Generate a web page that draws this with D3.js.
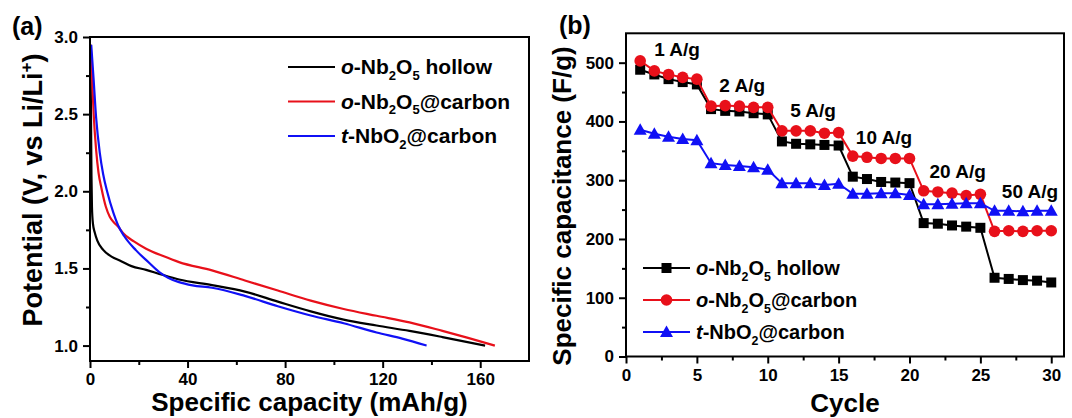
<!DOCTYPE html>
<html>
<head>
<meta charset="utf-8">
<title>Nb oxide discharge and rate</title>
<script src="https://d3js.org/d3.v7.min.js"></script>
<style>
  body { margin: 0; background: #fff; }
  text { font-family: "Liberation Sans", Arial, sans-serif; font-weight: bold; fill: #000; }
</style>
</head>
<body>
<script>
// ---------- panel (a): discharge curves ----------
var holCap = [0.2, 0.4, 0.6, 0.8, 1.2, 2.0, 3.0, 5.4, 9, 12.2, 17, 23, 28.4, 36.5, 50, 63.5, 77, 90.5, 104, 117.5, 131, 144.5, 162];
var holV   = [2.95, 2.5, 2.1, 1.9, 1.79, 1.73, 1.68, 1.62, 1.575, 1.552, 1.515, 1.491, 1.465, 1.428, 1.392, 1.35, 1.285, 1.222, 1.168, 1.13, 1.095, 1.055, 1.0];
var ocCap  = [0.3, 0.8, 1.5, 2.5, 3.5, 4.7, 6.5, 8.1, 10, 11.5, 13.5, 18, 23, 30, 36.5, 50, 63.5, 77, 90.5, 104, 117.5, 131, 144.5, 155, 166];
var ocV    = [2.95, 2.75, 2.5, 2.27, 2.12, 2.02, 1.9, 1.835, 1.795, 1.772, 1.73, 1.675, 1.628, 1.58, 1.541, 1.487, 1.422, 1.357, 1.291, 1.237, 1.193, 1.15, 1.095, 1.05, 1.0];
var tcCap  = [0.5, 1.5, 2.5, 4, 5.4, 7, 9.6, 11.5, 14, 18.9, 24, 28.4, 32, 36.5, 42, 50, 63.5, 77, 90.5, 104, 117.5, 128, 138];
var tcV    = [2.95, 2.72, 2.48, 2.25, 2.11, 2.0, 1.86, 1.78, 1.71, 1.617, 1.54, 1.476, 1.44, 1.411, 1.39, 1.375, 1.322, 1.255, 1.195, 1.145, 1.085, 1.045, 1.0];
var capTicks = [0, 40, 80, 120, 160];
var capMinor = [20, 60, 100, 140];
var vTicks = [1.0, 1.5, 2.0, 2.5, 3.0];
var vMinor = [1.25, 1.75, 2.25, 2.75];

// ---------- panel (b): rate performance ----------
var cycles = [1,2,3,4,5,6,7,8,9,10,11,12,13,14,15,16,17,18,19,20,21,22,23,24,25,26,27,28,29,30];
var holCapac = [488,480,472,467,463, 421,418,417,414,412, 366,362,361,360,359, 306,302,297,296,295, 227,226,223,221,219, 134,132,130,129,126];
var ocCapac  = [503,486,480,475,472, 426,427,426,424,424, 384,384,384,380,381, 341,339,337,337,337, 282,280,278,274,276, 213,214,213,214,214];
var tcCapac  = [386,379,374,370,368, 329,326,324,322,318, 295,295,295,292,294, 277,277,278,278,275, 259,259,260,261,261, 248,248,247,248,248];
var cycTicks = [0, 5, 10, 15, 20, 25, 30];
var cycMinor = [2.5, 7.5, 12.5, 17.5, 22.5, 27.5];
var capTicksB = [0, 100, 200, 300, 400, 500];
var capMinorB = [50, 150, 250, 350, 450];
var rateNames = ["1 A/g", "2 A/g", "5 A/g", "10 A/g", "20 A/g", "50 A/g"];
var rateCycle = [3.6, 8.2, 13.2, 18.2, 23.4, 28.5];
var rateValue = [523, 462, 420, 373, 315, 281];

// legend text pieces: [text, "i" italic | "s" subscript]
var nameHollow = [["o", "i"], ["-Nb"], ["2", "s"], ["O"], ["5", "s"], [" hollow"]];
var nameOC = [["o", "i"], ["-Nb"], ["2", "s"], ["O"], ["5", "s"], ["@carbon"]];
var nameTC = [["t", "i"], ["-NbO"], ["2", "s"], ["@carbon"]];

var RED = "#e8101a", BLUE = "#1010f5";

var svg = d3.select("body").append("svg").attr("width", 1072).attr("height", 418);

function richText(sel, parts, size) {
  var back = 0;
  parts.forEach(function (p) {
    var t = sel.append("tspan").text(p[0]);
    if (back) { t.attr("dy", back); back = 0; }
    if (p[1] === "i") t.attr("font-style", "italic");
    if (p[1] === "s") {
      t.attr("font-size", size * 0.62).attr("dy", size * 0.28);
      back = -size * 0.28;
    }
  });
}

function axes(g, x, y, xt, xm, yt, ym, xfmt, yfmt) {
  var y0 = y.range()[0], x0 = x.range()[0];
  function style(a) {
    a.select(".domain").remove();
    a.selectAll("line").attr("stroke", "#000").attr("stroke-width", 2);
    a.selectAll("text").attr("font-size", 17).attr("fill", "#000");
  }
  function minor(a) { style(a); a.selectAll("text").remove(); }
  g.append("g").attr("transform", "translate(0," + y0 + ")")
    .call(d3.axisBottom(x).tickValues(xt).tickSize(7).tickPadding(5).tickFormat(xfmt)).call(style);
  g.append("g").attr("transform", "translate(0," + y0 + ")")
    .call(d3.axisBottom(x).tickValues(xm).tickSize(4)).call(minor);
  g.append("g").attr("transform", "translate(" + x0 + ",0)")
    .call(d3.axisLeft(y).tickValues(yt).tickSize(7).tickPadding(5).tickFormat(yfmt)).call(style);
  g.append("g").attr("transform", "translate(" + x0 + ",0)")
    .call(d3.axisLeft(y).tickValues(ym).tickSize(4)).call(minor);
}

function frame(g, x, y) {
  g.append("rect")
    .attr("x", x.range()[0]).attr("y", y.range()[1])
    .attr("width", x.range()[1] - x.range()[0])
    .attr("height", y.range()[0] - y.range()[1])
    .attr("fill", "none").attr("stroke", "#000").attr("stroke-width", 2);
}

// ================= panel (a) =================
var xA = d3.scaleLinear().domain([0, 180]).range([90, 529]);
var yA = d3.scaleLinear().domain([0.9, 3.0]).range([361, 37]);
var gA = svg.append("g");

var curves = [
  { cap: holCap, v: holV, color: "#000", name: nameHollow },
  { cap: ocCap, v: ocV, color: RED, name: nameOC },
  { cap: tcCap, v: tcV, color: BLUE, name: nameTC }
];
var lineA = d3.line().curve(d3.curveMonotoneX);
curves.forEach(function (c) {
  gA.append("path")
    .attr("d", lineA(c.cap.map(function (d, i) { return [xA(d), yA(c.v[i])]; })))
    .attr("fill", "none").attr("stroke", c.color).attr("stroke-width", 2.2);
});
axes(gA, xA, yA, capTicks, capMinor, vTicks, vMinor, d3.format("d"), d3.format(".1f"));
frame(gA, xA, yA);

// legend (a)
curves.forEach(function (c, i) {
  var ly = 67 + i * 34.5;
  gA.append("line").attr("x1", 288).attr("x2", 335).attr("y1", ly).attr("y2", ly)
    .attr("stroke", c.color).attr("stroke-width", 2.2);
  richText(gA.append("text").attr("x", 341).attr("y", ly + 7).attr("font-size", 21), c.name, 21);
});

gA.append("text").attr("x", 12).attr("y", 35).attr("font-size", 25).text("(a)");
gA.append("text").attr("x", 309.5).attr("y", 411).attr("text-anchor", "middle")
  .attr("font-size", 26).text("Specific capacity (mAh/g)");
var tA = gA.append("text").attr("transform", "translate(42,190) rotate(-90)")
  .attr("text-anchor", "middle").attr("font-size", 27);
tA.append("tspan").text("Potential (V, vs Li/Li");
tA.append("tspan").attr("font-size", 17).attr("dy", -10).text("+");
tA.append("tspan").attr("dy", 10).text(")");

// ================= panel (b) =================
var xB = d3.scaleLinear().domain([0, 30.9]).range([626, 1064]);
var yB = d3.scaleLinear().domain([0, 550]).range([356.5, 33.3]);
var gB = svg.append("g");

var series = [
  { v: holCapac, color: "#000", shape: "square", name: nameHollow },
  { v: ocCapac, color: RED, shape: "circle", name: nameOC },
  { v: tcCapac, color: BLUE, shape: "triangle", name: nameTC }
];

function marker(g, shape, color, cx, cy) {
  if (shape === "square") {
    g.append("rect").attr("x", cx - 5).attr("y", cy - 5).attr("width", 10).attr("height", 10).attr("fill", color);
  } else if (shape === "circle") {
    g.append("circle").attr("cx", cx).attr("cy", cy).attr("r", 5.8).attr("fill", color);
  } else {
    g.append("path").attr("d", "M0,-6.5L6.5,5L-6.5,5Z")
      .attr("transform", "translate(" + cx + "," + cy + ")").attr("fill", color);
  }
}

var lineB = d3.line();
series.forEach(function (s) {
  gB.append("path")
    .attr("d", lineB(cycles.map(function (c, i) { return [xB(c), yB(s.v[i])]; })))
    .attr("fill", "none").attr("stroke", s.color).attr("stroke-width", 2);
  cycles.forEach(function (c, i) { marker(gB, s.shape, s.color, xB(c), yB(s.v[i])); });
});

rateNames.forEach(function (r, i) {
  gB.append("text").attr("x", xB(rateCycle[i])).attr("y", yB(rateValue[i])).attr("dy", "0.36em")
    .attr("text-anchor", "middle").attr("font-size", 19).text(r);
});

axes(gB, xB, yB, cycTicks, cycMinor, capTicksB, capMinorB, d3.format("d"), d3.format("d"));
frame(gB, xB, yB);

// legend (b)
series.forEach(function (s, i) {
  var ly = 268 + i * 32;
  gB.append("line").attr("x1", 643).attr("x2", 690).attr("y1", ly).attr("y2", ly)
    .attr("stroke", s.color).attr("stroke-width", 2);
  marker(gB, s.shape, s.color, 666.5, ly);
  richText(gB.append("text").attr("x", 696).attr("y", ly + 7).attr("font-size", 20), s.name, 20);
});

gB.append("text").attr("x", 559).attr("y", 34).attr("font-size", 25).text("(b)");
gB.append("text").attr("x", 845).attr("y", 412).attr("text-anchor", "middle")
  .attr("font-size", 26).text("Cycle");
gB.append("text").attr("transform", "translate(571,206) rotate(-90)")
  .attr("text-anchor", "middle").attr("font-size", 26).text("Specific capacitance (F/g)");
</script>
</body>
</html>
